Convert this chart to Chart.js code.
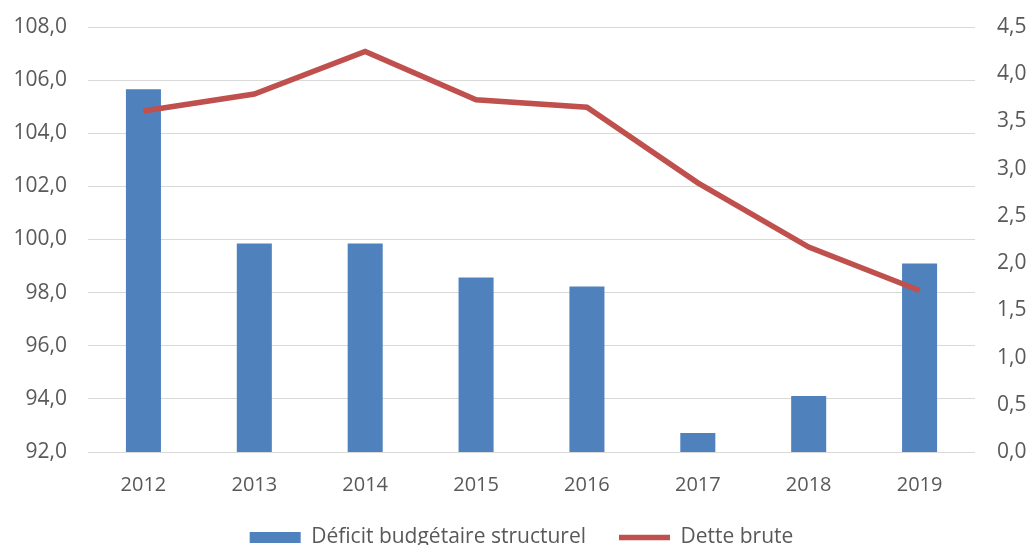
<!DOCTYPE html>
<html>
<head>
<meta charset="utf-8">
<script src="https://cdn.jsdelivr.net/npm/chart.js@4"></script>
<style>
  html, body { margin: 0; padding: 0; background: #fff; }
  #wrap { width: 1030px; height: 545px; }
</style>
</head>
<body>
<div id="wrap"><canvas id="graf"></canvas></div>
<script>
const annees = ['2012', '2013', '2014', '2015', '2016', '2017', '2018', '2019'];
const deficit = [105.66, 99.85, 99.85, 98.57, 98.23, 92.72, 94.11, 99.1];
const dette = [3.61, 3.79, 4.24, 3.73, 3.65, 2.85, 2.17, 1.71];

const gauche = { min: 92, max: 108, pas: 2 };
const droite = { min: 0, max: 4.5, pas: 0.5 };

const virgule = v => Number(v).toFixed(1).replace('.', ',');
const famille = '"Open Sans", sans-serif';
const gris = '#595959';

// largeur fixe des axes verticaux, sans marge haute/basse supplémentaire
const axeFixe = largeur => s => {
  s.width = largeur;
  s.paddingTop = 0;
  s.paddingBottom = 0;
};

new Chart(document.getElementById('graf'), {
  data: {
    labels: annees,
    datasets: [
      {
        type: 'bar',
        label: 'Déficit budgétaire structurel',
        data: deficit,
        yAxisID: 'y',
        backgroundColor: '#4f81bd',
        borderWidth: 0,
        categoryPercentage: 1,
        barPercentage: 0.316,
        pointStyle: 'rect',
        order: 1
      },
      {
        type: 'line',
        label: 'Dette brute',
        data: dette,
        yAxisID: 'y1',
        borderColor: '#c0504d',
        backgroundColor: '#c0504d',
        borderWidth: 5.5,
        pointRadius: 0,
        pointStyle: 'line',
        tension: 0,
        order: 0
      }
    ]
  },
  options: {
    responsive: true,
    maintainAspectRatio: false,
    animation: false,
    layout: { padding: { left: 13, right: 0, top: 27, bottom: -13 } },
    plugins: {
      tooltip: { enabled: false },
      legend: {
        position: 'bottom',
        labels: {
          usePointStyle: true,
          pointStyleWidth: 51,
          boxHeight: 11,
          padding: 33,
          color: gris,
          font: { family: famille, size: 21 },
          sort: (a, b) => a.datasetIndex - b.datasetIndex
        }
      }
    },
    scales: {
      x: {
        grid: { display: false },
        border: { display: false },
        ticks: { color: gris, font: { family: famille, size: 20 }, padding: 13 },
        afterFit: s => { s.height = 42; }
      },
      y: {
        position: 'left',
        min: gauche.min,
        max: gauche.max,
        grid: { color: '#d9d9d9', drawTicks: false },
        border: { display: false },
        ticks: { stepSize: gauche.pas, color: gris, font: { family: famille, size: 21 }, padding: 21, callback: virgule },
        afterFit: axeFixe(75)
      },
      y1: {
        position: 'right',
        min: droite.min,
        max: droite.max,
        grid: { display: false, drawTicks: false },
        border: { display: false },
        ticks: { stepSize: droite.pas, color: gris, font: { family: famille, size: 21 }, padding: 22, callback: virgule },
        afterFit: axeFixe(55)
      }
    }
  }
});
</script>
</body>
</html>
